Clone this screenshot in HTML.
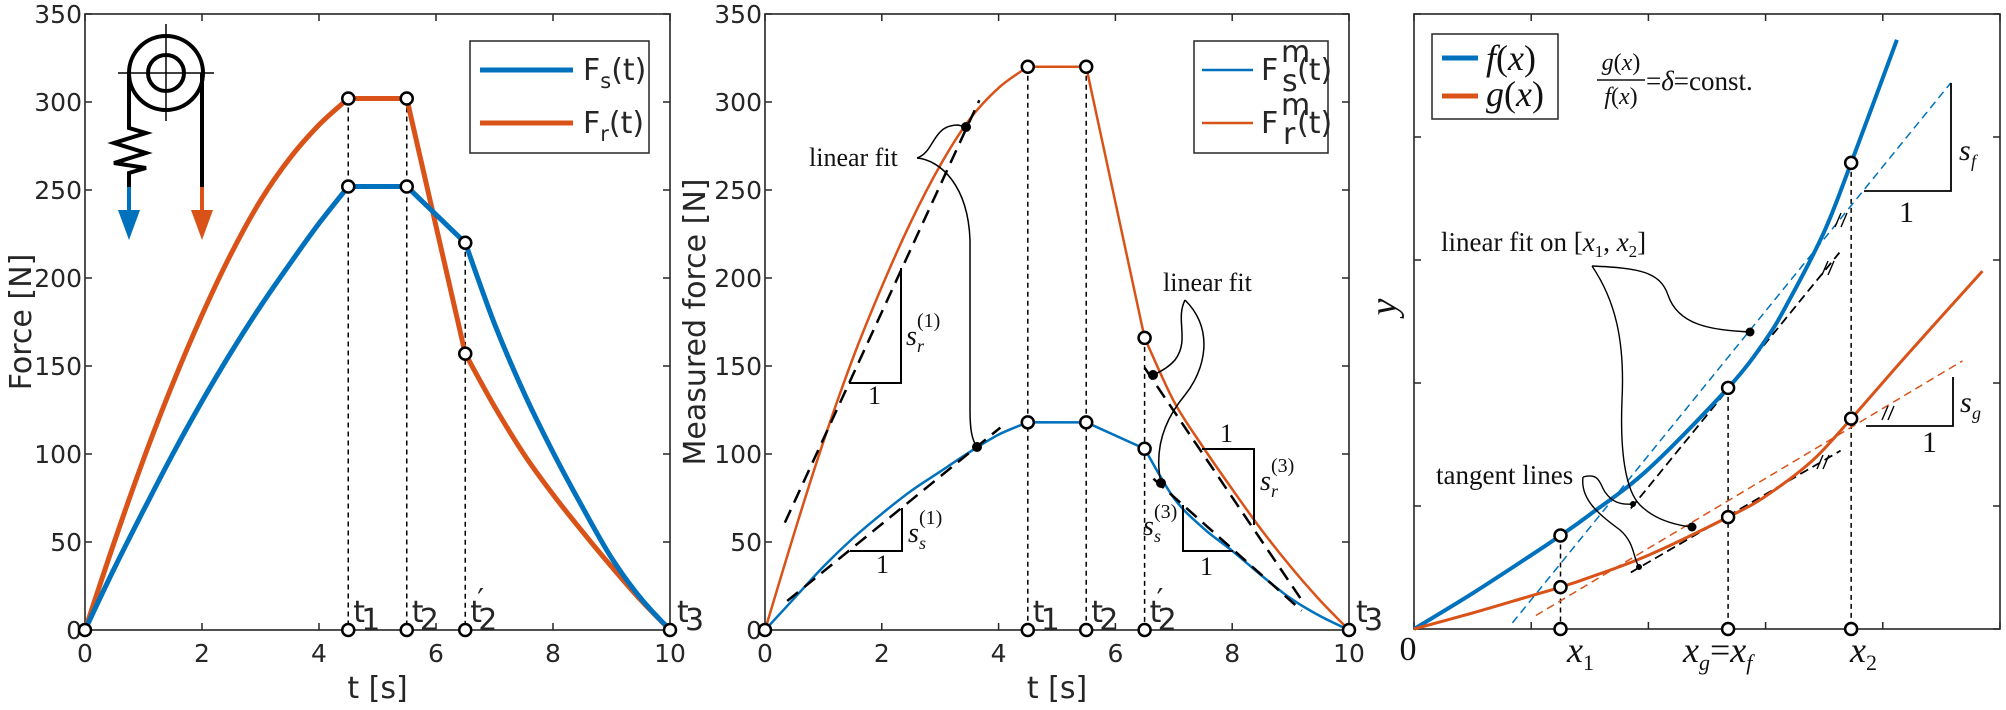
<!DOCTYPE html>
<html><head><meta charset="utf-8"><style>
html,body{margin:0;padding:0;background:#fff;}
svg{display:block;}
.tk{font-family:"DejaVu Sans","Liberation Sans",sans-serif;font-size:25px;fill:#262626;}
.ti{font-family:"DejaVu Sans","Liberation Sans",sans-serif;font-size:30px;fill:#262626;}
.sf{font-family:"Liberation Serif",serif;fill:#111;}
.it{font-style:italic;}
</style></head><body>
<svg id="fig" width="2006" height="710" viewBox="0 0 2006 710" xmlns="http://www.w3.org/2000/svg">
<g id="p1"></g>
<g id="p2"></g>
<g id="p3"></g>

<g fill="none" stroke="#000" stroke-width="4">
<circle cx="166" cy="73" r="37"/>
<circle cx="166" cy="73" r="18"/>
<line x1="118" y1="73" x2="214" y2="73" stroke-width="1.5"/>
<line x1="166" y1="24" x2="166" y2="121" stroke-width="1.5"/>
<polyline points="129,73 129,128 146,133 114,143 146,153 114,163 146,168 129,173 129,187"/>
<line x1="202" y1="73" x2="202" y2="187"/>
<line x1="129" y1="187" x2="129" y2="215" stroke="#0072BD"/>
<polygon points="118,210 140,210 129,240" fill="#0072BD" stroke="none"/>
<line x1="202" y1="187" x2="202" y2="215" stroke="#D95319"/>
<polygon points="191,210 213,210 202,240" fill="#D95319" stroke="none"/>
</g>

<g>
<rect x="470" y="41" width="179" height="112" fill="#fff" stroke="#262626" stroke-width="1.5"/>
<line x1="480" y1="70" x2="573" y2="70" stroke="#0072BD" stroke-width="5"/>
<line x1="480" y1="123" x2="573" y2="123" stroke="#D95319" stroke-width="5"/>
<text class="ti" x="583" y="80" font-size="30">F<tspan font-size="21" dy="8">s</tspan><tspan dy="-8">(t)</tspan></text>
<text class="ti" x="583" y="133" font-size="30">F<tspan font-size="21" dy="8">r</tspan><tspan dy="-8">(t)</tspan></text>
</g>

<g>
<rect x="1194" y="41" width="134" height="112" fill="#fff" stroke="#262626" stroke-width="1.5"/>
<line x1="1202" y1="70" x2="1253" y2="70" stroke="#0072BD" stroke-width="2.5"/>
<line x1="1202" y1="123" x2="1253" y2="123" stroke="#D95319" stroke-width="2.5"/>
<text class="ti" x="1261" y="80">F</text><text class="ti" x="1281" y="62" font-size="18">m</text><text class="ti" x="1282" y="91" font-size="18">s</text><text class="ti" x="1297" y="80">(t)</text>
<text class="ti" x="1261" y="133">F</text><text class="ti" x="1281" y="115" font-size="18">m</text><text class="ti" x="1283" y="144" font-size="18">r</text><text class="ti" x="1297" y="133">(t)</text>
</g>

<g>
<rect x="1432" y="34" width="126" height="85" fill="#fff" stroke="#262626" stroke-width="1.5"/>
<line x1="1442" y1="58" x2="1478" y2="58" stroke="#0072BD" stroke-width="5"/>
<line x1="1442" y1="96" x2="1478" y2="96" stroke="#D95319" stroke-width="5"/>
<text class="sf it" x="1486" y="70" font-size="36">f<tspan font-style="normal">(</tspan>x<tspan font-style="normal">)</tspan></text>
<text class="sf it" x="1486" y="106" font-size="36">g<tspan font-style="normal">(</tspan>x<tspan font-style="normal">)</tspan></text>
</g>

<g>
<text class="sf it" x="1621" y="70" font-size="24" text-anchor="middle">g<tspan font-style="normal">(</tspan>x<tspan font-style="normal">)</tspan></text>
<line x1="1597" y1="80" x2="1645" y2="80" stroke="#111" stroke-width="1.5"/>
<text class="sf it" x="1621" y="104" font-size="24" text-anchor="middle">f<tspan font-style="normal">(</tspan>x<tspan font-style="normal">)</tspan></text>
<text class="sf" x="1646" y="90" font-size="27">=<tspan font-style="italic">δ</tspan>=const.</text>
</g>
</svg>
<script>
const NS='http://www.w3.org/2000/svg';
// ---------- Panel 1 data ----------
const p1_tRise=[0,0.5,1,1.5,2,2.5,3,3.5,4,4.5];
const p1_FsRise=[0,35,68,100,130,158,184,208,231,252];
const p1_FrRise=[0,50,97,140,179,214,244,268,287,302];
const p1_tFall=[6.5,7,7.5,8,8.5,9,9.5,10];
const p1_FsFall=[220,174,135,101,70,41,18,0];
const p1_FrFall=[157,127,100,77,56,36,17,0];
const p1_tPlateauEnd=5.5;
// ---------- Panel 2 data ----------
const p2_tRise=[0,0.5,1,1.5,2,2.5,3,3.5,4,4.5];
const p2_FsRise=[0,18,36,52,66,79,90,101,111,118];
const p2_FrRise=[0,55,107,154,195,232,264,290,308,320];
const p2_tFall=[6.5,7,7.5,8,8.5,9,9.5,10];
const p2_FsFall=[103,75,58,45,31,18,8,0];
const p2_FrFall=[166,130,104,80,57,36,17,0];
const keyTimes=[4.5,5.5,6.5];
const xTicks=[0,2,4,6,8,10];
const yTicks=[0,50,100,150,200,250,300,350];
// ---------- Panel 3 data ----------
const p3_xf=[0,0.5,1,1.25,1.5,2,2.68,3,3.2,3.5,3.73,4.12];
const p3_f=[0,0.29,0.6,0.76,0.93,1.3,1.96,2.35,2.67,3.23,3.79,4.79];
const p3_xg=[0,0.5,1,1.25,1.5,2,2.68,3,3.4,3.73,4.2,4.85];
const p3_g=[0,0.13,0.27,0.34,0.42,0.6,0.91,1.08,1.37,1.71,2.22,2.91];
const p3_keyX=[1.25,2.68,3.73];
const p3_keyF=[0.76,1.96,3.79];
const p3_keyG=[0.34,0.91,1.71];

const svg=document.getElementById('fig');
function tag(el,name){
  
  
  return el;
}
function add(parent,t,attrs,txt){
  const e=document.createElementNS(NS,t);
  for(const k in attrs)e.setAttribute(k,attrs[k]);
  if(txt!==undefined)e.textContent=txt;
  parent.appendChild(e);return e;
}
function cr(pts){
  let d='M'+pts[0][0].toFixed(1)+','+pts[0][1].toFixed(1);
  for(let i=0;i<pts.length-1;i++){
    const p0=pts[i-1]||pts[i],p1=pts[i],p2=pts[i+1],p3=pts[i+2]||p2;
    const c1=[p1[0]+(p2[0]-p0[0])/6,p1[1]+(p2[1]-p0[1])/6];
    const c2=[p2[0]-(p3[0]-p1[0])/6,p2[1]-(p3[1]-p1[1])/6];
    d+=` C${c1[0].toFixed(1)},${c1[1].toFixed(1)} ${c2[0].toFixed(1)},${c2[1].toFixed(1)} ${p2[0].toFixed(1)},${p2[1].toFixed(1)}`;
  }
  return d;
}
function marker(g,x,y,name){
  const c=add(g,'circle',{cx:x,cy:y,r:6,fill:'#fff',stroke:'#000','stroke-width':2.5});
  tag(c,name);
}
function axesBox(g,x0,x1,y0,y1,xt,yt,sx,sy){
  const r=add(g,'rect',{x:x0,y:y1,width:x1-x0,height:y0-y1,fill:'none',stroke:'#262626','stroke-width':1.6});
  tag(r,'axes-box');
  xt.forEach(v=>{const X=sx(v);
    const a=add(g,'line',{x1:X,y1:y0,x2:X,y2:y0-7,stroke:'#262626','stroke-width':1.5});tag(a,'x-tick');
    const b=add(g,'line',{x1:X,y1:y1,x2:X,y2:y1+7,stroke:'#262626','stroke-width':1.5});tag(b,'x-tick-top');});
  yt.forEach(v=>{const Y=sy(v);
    const a=add(g,'line',{x1:x0,y1:Y,x2:x0+7,y2:Y,stroke:'#262626','stroke-width':1.5});tag(a,'y-tick');
    const b=add(g,'line',{x1:x1,y1:Y,x2:x1-7,y2:Y,stroke:'#262626','stroke-width':1.5});tag(b,'y-tick-right');});
}
function timePanel(g,X0,X1,tR,sR,rR,tF,sF,rF,ylabel,lw,yoff){
  const sx=t=>X0+t*(X1-X0)/10, sy=F=>630-F*1.76;
  axesBox(g,X0,X1,630,14,xTicks,yTicks,sx,sy);
  xTicks.forEach(v=>{const t=add(g,'text',{class:'tk',x:sx(v),y:662,'text-anchor':'middle'},String(v));tag(t,'x-tick-label');});
  yTicks.forEach(v=>{const t=add(g,'text',{class:'tk',x:X0-3,y:sy(v)+9,'text-anchor':'end'},String(v));tag(t,'y-tick-label');});
  const xl=add(g,'text',{class:'ti',x:(X0+X1)/2,y:698,'text-anchor':'middle'},'t [s]');tag(xl,'x-axis-title');
  const yl=add(g,'text',{class:'ti',x:0,y:0,'text-anchor':'middle',transform:`translate(${X0-yoff},322) rotate(-90)`},ylabel);tag(yl,'y-axis-title');
  const topR=rR[rR.length-1];
  [[keyTimes[0],topR],[keyTimes[1],topR],[keyTimes[2],Math.max(sF[0],rF[0])]].forEach(p=>{
    const l=add(g,'line',{x1:sx(p[0]),y1:sy(p[1]),x2:sx(p[0]),y2:630,stroke:'#000','stroke-width':1.5,'stroke-dasharray':'5,4'});tag(l,'key-time-line');});
  function series(R,F,col,name){
    let d=cr(tR.map((t,i)=>[sx(t),sy(R[i])]));
    d+=` L${sx(p1_tPlateauEnd)},${sy(R[R.length-1])} L${sx(tF[0])},${sy(F[0])} `;
    d+=cr(tF.map((t,i)=>[sx(t),sy(F[i])])).replace(/^M/,'L');
    const p=add(g,'path',{d:d,fill:'none',stroke:col,'stroke-width':lw,'stroke-linejoin':'round'});tag(p,name);
  }
  series(rR,rF,'#D95319','series-fr');
  series(sR,sF,'#0072BD','series-fs');
  return {sx,sy};
}
function timeLabels(g,sx){
  const names=['1','2'];
  [0,1].forEach(i=>{const t=add(g,'text',{class:'ti',x:sx(keyTimes[i])+5,y:622,'font-size':25},'t');tag(t,'time-label');
    const s=add(g,'text',{class:'ti',x:sx(keyTimes[i])+13,y:630,'font-size':17},names[i]);tag(s,'time-label-sub');});
  const t=add(g,'text',{class:'ti',x:sx(keyTimes[2])+5,y:622,'font-size':25},'t');tag(t,'time-label');
  const s=add(g,'text',{class:'ti',x:sx(keyTimes[2])+13,y:630,'font-size':17},'2');tag(s,'time-label-sub');
  const q=add(g,'text',{class:'ti',x:sx(keyTimes[2])+12,y:610,'font-size':17},'\u2032');tag(q,'time-label-prime');
  const t3=add(g,'text',{class:'ti',x:sx(10)+7,y:622,'font-size':25},'t');tag(t3,'time-label');
  const s3=add(g,'text',{class:'ti',x:sx(10)+15,y:630,'font-size':17},'3');tag(s3,'time-label-sub');
}
function timeMarkers(g,sx,sy,R,F,Rr,Fr){
  marker(g,sx(keyTimes[0]),sy(Rr[Rr.length-1]),'marker');
  marker(g,sx(keyTimes[1]),sy(Rr[Rr.length-1]),'marker');
  marker(g,sx(keyTimes[0]),sy(R[R.length-1]),'marker');
  marker(g,sx(keyTimes[1]),sy(R[R.length-1]),'marker');
  marker(g,sx(keyTimes[2]),sy(F[0]),'marker');
  marker(g,sx(keyTimes[2]),sy(Fr[0]),'marker');
  [0,keyTimes[0],keyTimes[1],keyTimes[2],10].forEach(t=>marker(g,sx(t),630,'axis-marker'));
}
// ----- Panel 1
const g1=document.getElementById('p1');
const A1=timePanel(g1,85,670,p1_tRise,p1_FsRise,p1_FrRise,p1_tFall,p1_FsFall,p1_FrFall,'Force [N]',5,54);
timeLabels(g1,A1.sx);
timeMarkers(g1,A1.sx,A1.sy,p1_FsRise,p1_FsFall,p1_FrRise,p1_FrFall);
// ----- Panel 2
const g2=document.getElementById('p2');
const A2=timePanel(g2,765,1349,p2_tRise,p2_FsRise,p2_FrRise,p2_tFall,p2_FsFall,p2_FrFall,'Measured force [N]',2.5,60);
(function(){
  const sx=A2.sx,sy=A2.sy;
  const fits=[[0.34,61,3.67,301],[0.38,16.5,4.03,115],[6.5,149,9.21,16],[6.65,86,9.19,11]];
  fits.forEach(f=>{const l=add(g2,'line',{x1:sx(f[0]),y1:sy(f[1]),x2:sx(f[2]),y2:sy(f[3]),stroke:'#000','stroke-width':2.5,'stroke-dasharray':'14,8'});tag(l,'linear-fit-line');});
  const tri=[['849,383 901,383 901,268'],['850,551 902,551 902,508'],['1202,449 1254,449 1254,525'],['1183,505 1183,551 1233,551']];
  tri.forEach(p=>{const e=add(g2,'polyline',{points:p[0],fill:'none',stroke:'#000','stroke-width':2});tag(e,'slope-triangle');});
  const T=(x,y,s,txt,cls,name)=>{const e=add(g2,'text',{class:cls,x:x,y:y,'font-size':s},txt);tag(e,name);};
  T(809,166,26,'linear fit','sf','annotation-linear-fit');
  T(1163,291,26,'linear fit','sf','annotation-linear-fit');
  T(906,345,28,'s','sf it','slope-label');T(917,352,18,'r','sf it','slope-label-sub');T(917,327,20,'(1)','sf','slope-label-sup');
  T(868,404,26,'1','sf','slope-unit');
  T(908,542,28,'s','sf it','slope-label');T(919,549,18,'s','sf it','slope-label-sub');T(919,524,20,'(1)','sf','slope-label-sup');
  T(876,573,26,'1','sf','slope-unit');
  T(1260,490,28,'s','sf it','slope-label');T(1271,497,18,'r','sf it','slope-label-sub');T(1271,472,20,'(3)','sf','slope-label-sup');
  T(1220,442,26,'1','sf','slope-unit');
  T(1143,535,28,'s','sf it','slope-label');T(1154,542,18,'s','sf it','slope-label-sub');T(1154,518,20,'(3)','sf','slope-label-sup');
  T(1200,575,26,'1','sf','slope-unit');
  const paths=['M917,158 C935,152 932,125 958,125 L966,127','M917,158 C940,160 968,185 970,240 L970,410 C970,430 972,440 977,447',
    'M1185,300 C1175,320 1190,340 1175,360 C1168,368 1160,372 1153,375','M1185,300 C1215,330 1205,370 1185,395 C1160,425 1155,455 1161,483'];
  paths.forEach(d=>{const e=add(g2,'path',{d:d,fill:'none',stroke:'#000','stroke-width':1.5});tag(e,'annotation-connector');});
  [[966,127],[977,447],[1153,375],[1161,483]].forEach(p=>{const e=add(g2,'circle',{cx:p[0],cy:p[1],r:5,fill:'#000'});tag(e,'fit-point');});
})();
timeLabels(g2,A2.sx);
timeMarkers(g2,A2.sx,A2.sy,p2_FsRise,p2_FsFall,p2_FrRise,p2_FrFall);
// ----- Panel 3
(function(){
  const g=document.getElementById('p3');
  const sx=x=>1414+x*117.2, sy=y=>629-y*123;
  axesBox(g,1414,2000,629,14,[0,1,2,3,4,5],[0,1,2,3,4,5],sx,sy);
  const z=add(g,'text',{class:'sf',x:1408,y:660,'font-size':34,'text-anchor':'middle'},'0');tag(z,'x-origin-label');
  const yl=add(g,'text',{class:'sf it',x:0,y:0,'font-size':38,'text-anchor':'middle',transform:'translate(1396,307) rotate(-90)'},'y');tag(yl,'y-axis-title');
  p3_keyX.forEach((x,i)=>{const l=add(g,'line',{x1:sx(x),y1:sy(p3_keyF[i]),x2:sx(x),y2:629,stroke:'#000','stroke-width':1.5,'stroke-dasharray':'5,4'});tag(l,'key-x-line');});
  const L=(a,b,c,d,col,w,dash,name)=>{const e=add(g,'line',{x1:sx(a),y1:sy(b),x2:sx(c),y2:sy(d),stroke:col,'stroke-width':w,'stroke-dasharray':dash});tag(e,name);};
  L(0.84,0.05,4.58,4.44,'#0072BD',1.5,'8,5','linear-fit-f');
  L(1.04,0.11,4.68,2.18,'#D95319',1.5,'8,5','linear-fit-g');
  L(1.85,0.98,3.63,3.06,'#000',1.8,'9,5','tangent-f');
  L(1.85,0.46,3.64,1.45,'#000',1.8,'9,5','tangent-g');
  const pf=add(g,'path',{d:cr(p3_xf.map((x,i)=>[sx(x),sy(p3_f[i])])),fill:'none',stroke:'#0072BD','stroke-width':4});tag(pf,'series-f');
  const pg=add(g,'path',{d:cr(p3_xg.map((x,i)=>[sx(x),sy(p3_g[i])])),fill:'none',stroke:'#D95319','stroke-width':3});tag(pg,'series-g');
  [[1841,220],[1828,268],[1888,413],[1823,462]].forEach(p=>{
    [-3,3].forEach(o=>{const e=add(g,'line',{x1:p[0]+o-3,y1:p[1]+7,x2:p[0]+o+3,y2:p[1]-7,stroke:'#000','stroke-width':1.4});tag(e,'equal-slope-mark');});});
  [['1864,191 1951,191 1951,83'],['1866,426 1953,426 1953,377']].forEach(p=>{const e=add(g,'polyline',{points:p[0],fill:'none',stroke:'#000','stroke-width':1.8});tag(e,'slope-triangle');});
  const T=(x,y,s,txt,cls,name)=>{const e=add(g,'text',{class:cls,x:x,y:y,'font-size':s},txt);tag(e,name);return e;};
  T(1959,160,30,'s','sf it','slope-label');T(1971,167,18,'f','sf it','slope-label-sub');
  T(1899,222,30,'1','sf','slope-unit');
  T(1960,412,30,'s','sf it','slope-label');T(1972,419,18,'g','sf it','slope-label-sub');
  T(1922,452,30,'1','sf','slope-unit');
  const lf=add(g,'text',{class:'sf',x:1441,y:251,'font-size':27});tag(lf,'annotation-linear-fit-on');
  lf.innerHTML='linear fit on [<tspan font-style="italic">x</tspan><tspan font-size="17" dy="6">1</tspan><tspan dy="-6">, </tspan><tspan font-style="italic">x</tspan><tspan font-size="17" dy="6">2</tspan><tspan dy="-6">]</tspan>';
  T(1436,484,27,'tangent lines','sf','annotation-tangent-lines');
  const paths=['M1592,266 C1640,268 1660,272 1668,295 C1678,325 1710,330 1750,332',
    'M1592,266 C1615,300 1625,340 1622,400 C1620,450 1625,490 1640,505 C1655,520 1675,525 1692,527',
    'M1583,477 C1600,472 1600,485 1605,492 C1612,502 1620,505 1633,504',
    'M1583,477 C1580,500 1600,515 1620,530 C1635,543 1633,558 1639,567'];
  paths.forEach(d=>{const e=add(g,'path',{d:d,fill:'none',stroke:'#000','stroke-width':1.4});tag(e,'annotation-connector');});
  [[1750,332,4.5],[1692,527,4.5],[1633,504,3],[1639,567,3]].forEach(p=>{const e=add(g,'circle',{cx:p[0],cy:p[1],r:p[2],fill:'#000'});tag(e,'annotation-dot');});
  p3_keyX.forEach((x,i)=>{marker(g,sx(x),sy(p3_keyF[i]),'marker-f');marker(g,sx(x),sy(p3_keyG[i]),'marker-g');marker(g,sx(x),629,'axis-marker');});
  const x1=add(g,'text',{class:'sf',x:1567,y:662,'font-size':36});tag(x1,'x-label-x1');
  x1.innerHTML='<tspan font-style="italic">x</tspan><tspan font-size="22" dy="8">1</tspan>';
  const xg=add(g,'text',{class:'sf',x:1683,y:662,'font-size':36});tag(xg,'x-label-xg-xf');
  xg.innerHTML='<tspan font-style="italic">x</tspan><tspan font-size="22" font-style="italic" dy="8">g</tspan><tspan dy="-8">=</tspan><tspan font-style="italic">x</tspan><tspan font-size="22" font-style="italic" dy="8">f</tspan>';
  const x2=add(g,'text',{class:'sf',x:1850,y:662,'font-size':36});tag(x2,'x-label-x2');
  x2.innerHTML='<tspan font-style="italic">x</tspan><tspan font-size="22" dy="8">2</tspan>';
})();
</script>
</body></html>
